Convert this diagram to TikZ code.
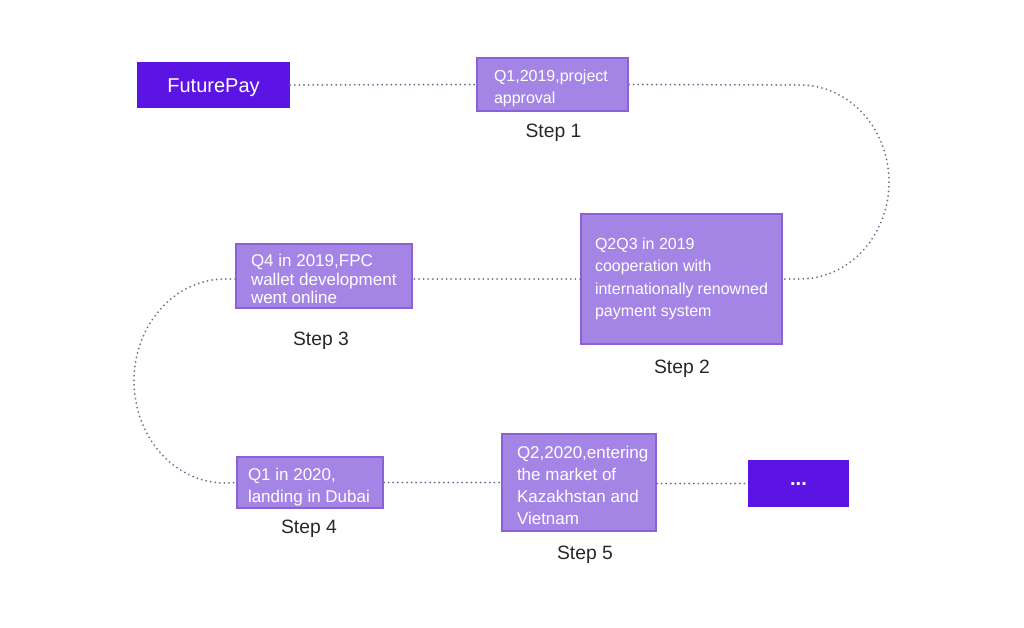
\documentclass[tikz,border=0pt]{standalone}
\usepackage{fontspec}
\setmainfont{Liberation Sans}
\definecolor{darkviolet}{RGB}{91,20,228}
\definecolor{lightfill}{RGB}{164,133,230}
\definecolor{lightedge}{RGB}{138,98,214}
\definecolor{dotcol}{RGB}{110,110,145}
\definecolor{labcol}{RGB}{40,40,40}
\begin{document}
\begin{tikzpicture}[x=1pt,y=-1pt,
  darkbox/.style={fill=darkviolet,draw=none,text=white,inner sep=0pt,text height=14.4pt,text depth=0pt,font=\fontsize{20}{24}\selectfont},
  lightbox/.style={fill=lightfill,draw=lightedge,line width=2pt,text=white,inner xsep=0pt,inner ysep=0pt,align=flush left},
  steplbl/.style={text=labcol,inner sep=0pt,text height=13.8pt,text depth=0pt,font=\fontsize{19.3}{23}\selectfont},
  dots/.style={draw=dotcol,line width=2pt,line cap=round,dash pattern=on 0pt off 4.6pt}
]
\useasboundingbox (0,0) rectangle (1024,628);
% dark boxes
\node[darkbox,minimum width=153pt,minimum height=46pt] (fp) at (213.5,85) {FuturePay};
\node[darkbox,minimum width=101pt,minimum height=47pt,text height=3pt] (more) at (798.5,483.5) {\textbf{...}};
% light boxes
\node[lightbox,minimum width=151pt,minimum height=53pt,text width=117pt,font=\fontsize{16}{22}\selectfont] (s1) at (552.5,84.5) {\vrule height 18.7pt width 0pt Q1,2019,project\\approval};
\node[lightbox,minimum width=201pt,minimum height=130pt,text width=173pt,font=\fontsize{16}{22.3}\selectfont] (s2) at (681.5,279) {Q2Q3 in 2019\\cooperation with\\internationally renowned\\payment system};
\node[lightbox,minimum width=176pt,minimum height=64pt,text width=146pt,font=\fontsize{17}{18.2}\selectfont] (s3) at (324,276) {\vrule height 18.4pt width 0pt Q4 in 2019,FPC\\wallet development\\went online};
\node[lightbox,minimum width=146pt,minimum height=51pt,text width=124pt,font=\fontsize{17}{21.5}\selectfont] (s4) at (310,482.5) {\vrule height 21.4pt width 0pt Q1 in 2020,\\landing in Dubai};
\node[lightbox,minimum width=154pt,minimum height=97pt,text width=124pt,font=\fontsize{17}{22}\selectfont] (s5) at (579,482.5) {\vrule height 18.4pt width 0pt Q2,2020,entering\\the market of\\Kazakhstan and\\Vietnam};
% step labels
\node[steplbl] (l1) at (553.5,131) {Step 1};
\node[steplbl] (l2) at (682,367) {Step 2};
\node[steplbl] (l3) at (321,339) {Step 3};
\node[steplbl] (l4) at (309,527) {Step 4};
\node[steplbl] (l5) at (585,553) {Step 5};
% connectors
\coordinate (r1) at (800,85);
\coordinate (q1) at (225,279);
\draw[dots] (fp.east) -- (s1.west);
\draw[dots] (s1.east) -- (r1) arc[start angle=-90,end angle=90,x radius=89,y radius=97] -- (s2.east);
\draw[dots] (s2.west) -- (s3.east |- s2.west);
\draw[dots] (s3.west |- q1) -- (q1) arc[start angle=270,end angle=90,x radius=91,y radius=102] -- (s4.west);
\draw[dots] (s4.east) -- (s5.west |- s4.east);
\draw[dots] (s5.east |- more.west) -- (more.west);
\end{tikzpicture}
\end{document}
